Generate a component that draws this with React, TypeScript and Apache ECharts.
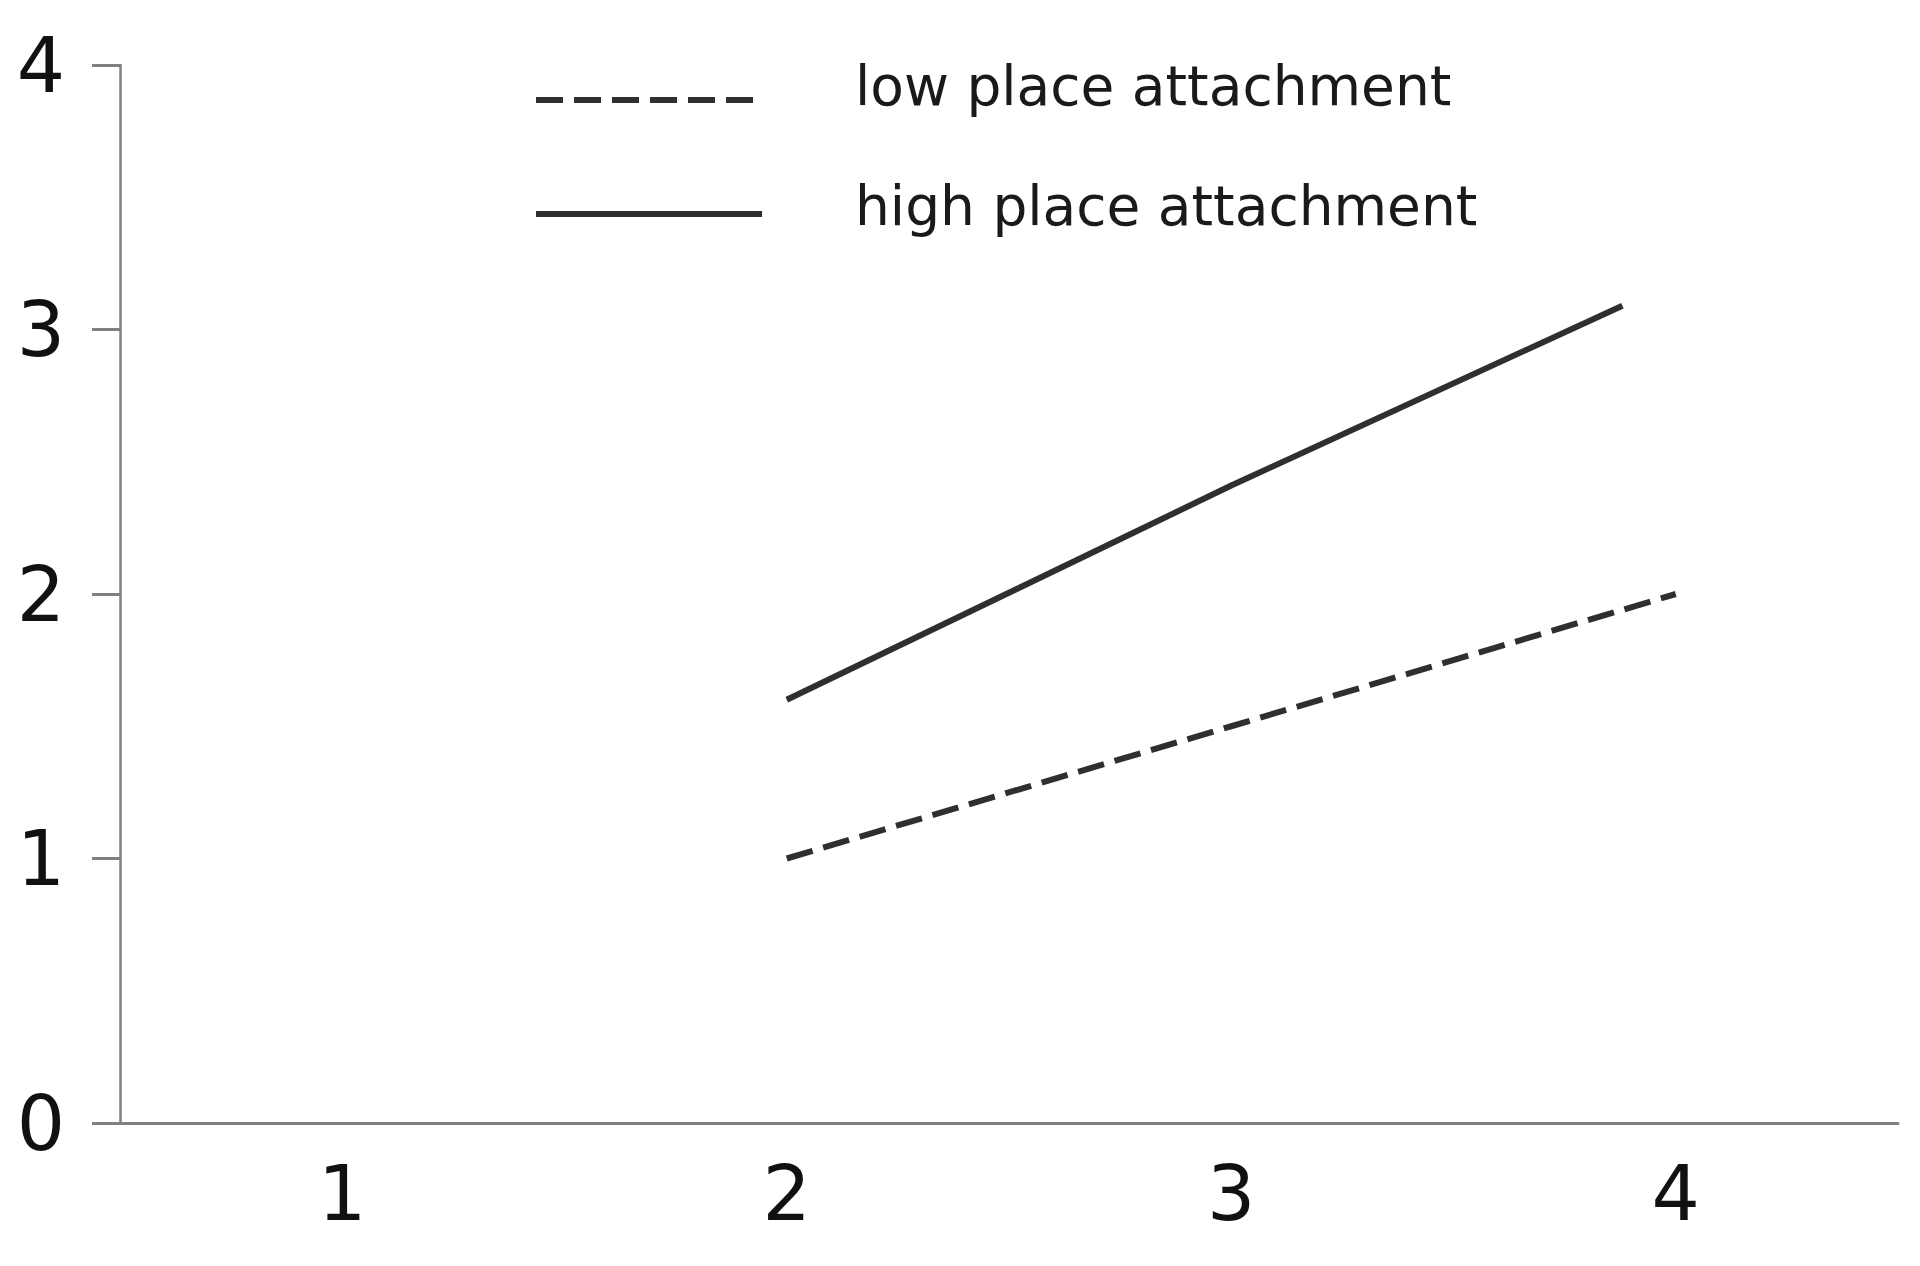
import React, { useEffect, useRef } from "react";
import * as echarts from "echarts";

// Interaction plot: outcome by level, split by place attachment group
const seriesNames = ["low place attachment", "high place attachment"];
const lowPoints: [number, number][] = [
  [2, 1.0],
  [3, 1.5],
  [4, 2.0],
];
const highPoints: [number, number][] = [
  [2, 1.6],
  [3, 2.41],
  [3.88, 3.09],
];
const xTicks = [1, 2, 3, 4];
const yTicks = [0, 1, 2, 3, 4];

const FONT = "DejaVu Sans";
const AXIS_GREY = "#808080";
const INK = "#2f2f2f";
const LINE_WIDTH = 6;
const DASH = [27, 11];

// Legend block: sample line on the left, label to its right
const LEGEND_LEFT = 536;
const LEGEND_SAMPLE_LEN = 226;
const LEGEND_TEXT_LEFT = 855;
const LEGEND_ROWS = [
  { lineY: 100, textY: 86, dash: DASH },
  { lineY: 214, textY: 206, dash: null as number[] | null },
];

export default function App() {
  const ref = useRef<HTMLDivElement>(null);

  useEffect(() => {
    if (!ref.current) return;
    const chart = echarts.init(ref.current, undefined, { renderer: "svg" });

    const legendGraphics: any[] = [];
    LEGEND_ROWS.forEach((row, i) => {
      legendGraphics.push({
        type: "line",
        shape: { x1: LEGEND_LEFT, y1: row.lineY, x2: LEGEND_LEFT + LEGEND_SAMPLE_LEN, y2: row.lineY },
        style: {
          stroke: INK,
          lineWidth: LINE_WIDTH,
          lineDash: row.dash || undefined,
          lineCap: "butt",
        },
        silent: true,
      });
      legendGraphics.push({
        type: "text",
        x: LEGEND_TEXT_LEFT,
        y: row.textY,
        style: {
          text: seriesNames[i],
          fontFamily: FONT,
          fontSize: 55,
          fill: "#1a1a1a",
          verticalAlign: "middle",
          align: "left",
        },
        silent: true,
      });
    });

    chart.setOption({
      animation: false,
      backgroundColor: "#ffffff",
      grid: { left: 120, right: 22, top: 65, bottom: 143, containLabel: false },
      graphic: legendGraphics,
      xAxis: {
        type: "value",
        min: 0.5,
        max: 4.5,
        splitLine: { show: false },
        axisLine: { show: true, lineStyle: { color: AXIS_GREY, width: 3 } },
        axisTick: { show: false, customValues: xTicks },
        axisLabel: {
          customValues: xTicks,
          fontFamily: FONT,
          fontSize: 76,
          color: "#111111",
          margin: 32,
        },
      },
      yAxis: {
        type: "value",
        min: yTicks[0],
        max: yTicks[yTicks.length - 1],
        interval: 1,
        splitLine: { show: false },
        axisLine: { show: true, lineStyle: { color: AXIS_GREY, width: 2.5 } },
        axisTick: {
          show: true,
          length: 28,
          lineStyle: { color: AXIS_GREY, width: 3 },
        },
        axisLabel: {
          fontFamily: FONT,
          fontSize: 76,
          color: "#111111",
          margin: 55,
        },
      },
      series: [
        {
          name: seriesNames[0],
          type: "line",
          data: lowPoints,
          symbol: "none",
          lineStyle: { color: INK, width: LINE_WIDTH, type: DASH, cap: "butt" },
          itemStyle: { color: INK },
        },
        {
          name: seriesNames[1],
          type: "line",
          data: highPoints,
          symbol: "none",
          lineStyle: { color: INK, width: LINE_WIDTH, type: "solid" },
          itemStyle: { color: INK },
        },
      ],
    });
    return () => chart.dispose();
  }, []);

  return (
    <div
      ref={ref}
      style={{ position: "absolute", left: 0, top: 0, width: 1920, height: 1266, background: "#fff" }}
    />
  );
}
